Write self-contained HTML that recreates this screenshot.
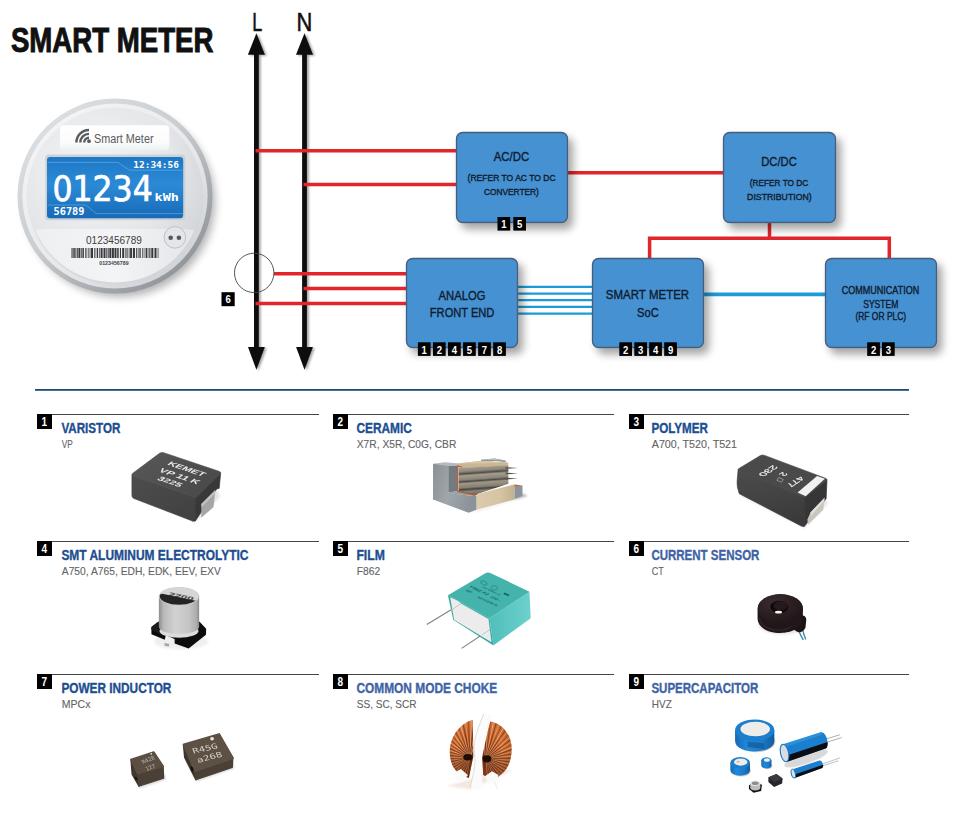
<!DOCTYPE html>
<html><head><meta charset="utf-8"><title>Smart Meter</title>
<style>
html,body{margin:0;padding:0;background:#fff;}
body{width:967px;height:822px;overflow:hidden;font-family:"Liberation Sans",sans-serif;}
svg{display:block;}
text{font-family:"Liberation Sans",sans-serif;}
.b{font-weight:bold;}
.dj{font-family:"DejaVu Sans","Liberation Sans",sans-serif;}
.mono{font-family:"DejaVu Sans Mono","Liberation Mono",monospace;}
.bt{fill:#101c30;stroke:#101c30;stroke-width:0.38px;}
.bd{fill:#fff;font-weight:bold;font-size:11px;text-anchor:middle;}
.st{font-weight:bold;font-size:14px;stroke-width:0.35px;}
.ss{font-size:11.2px;fill:#636363;stroke:#636363;stroke-width:0.12px;}
</style></head><body>
<svg width="967" height="822" viewBox="0 0 967 822">
<defs>
<filter id="sh" x="-20%" y="-20%" width="150%" height="150%"><feGaussianBlur in="SourceAlpha" stdDeviation="4.2"/><feOffset dx="5" dy="6"/><feComponentTransfer><feFuncA type="linear" slope="0.36"/></feComponentTransfer><feMerge><feMergeNode/><feMergeNode in="SourceGraphic"/></feMerge></filter>
<filter id="sh2" x="-50%" y="-5%" width="250%" height="110%"><feGaussianBlur in="SourceAlpha" stdDeviation="1.2"/><feOffset dx="1.5" dy="1"/><feComponentTransfer><feFuncA type="linear" slope="0.35"/></feComponentTransfer><feMerge><feMergeNode/><feMergeNode in="SourceGraphic"/></feMerge></filter>
<filter id="bl1"><feGaussianBlur stdDeviation="0.6"/></filter>
<filter id="bl2"><feGaussianBlur stdDeviation="1.2"/></filter>
<filter id="bl4"><feGaussianBlur stdDeviation="4"/></filter>

<linearGradient id="mrim" x1="0.15" y1="0.1" x2="0.85" y2="0.9"><stop offset="0" stop-color="#dcdfe2"/><stop offset="0.45" stop-color="#c9ccd0"/><stop offset="1" stop-color="#909398"/></linearGradient>
<linearGradient id="mbev" x1="0.15" y1="0.1" x2="0.85" y2="0.9"><stop offset="0" stop-color="#f3f4f5"/><stop offset="0.6" stop-color="#e6e8ea"/><stop offset="1" stop-color="#cfd2d6"/></linearGradient>
<radialGradient id="mface" cx="0.38" cy="0.35" r="0.75"><stop offset="0" stop-color="#f3f4f5"/><stop offset="0.6" stop-color="#e4e6e9"/><stop offset="1" stop-color="#cdd0d4"/></radialGradient>
<linearGradient id="mlow" x1="0" y1="0" x2="1" y2="0"><stop offset="0" stop-color="#eceef0"/><stop offset="0.5" stop-color="#f3f4f6"/><stop offset="1" stop-color="#dfe2e5"/></linearGradient>
<linearGradient id="mlab" x1="0" y1="0" x2="0" y2="1"><stop offset="0" stop-color="#ffffff"/><stop offset="0.7" stop-color="#fbfbfc"/><stop offset="1" stop-color="#eef0f2"/></linearGradient>
<linearGradient id="lcd" x1="0" y1="0" x2="0" y2="1"><stop offset="0" stop-color="#1d78c6"/><stop offset="0.45" stop-color="#2b8ad6"/><stop offset="1" stop-color="#176ab8"/></linearGradient>
<filter id="bl0"><feGaussianBlur stdDeviation="0.3"/></filter>
<linearGradient id="v1" x1="0" y1="0" x2="1" y2="1"><stop offset="0" stop-color="#4d4d4d"/><stop offset="1" stop-color="#404040"/></linearGradient>
<linearGradient id="v2" x1="0" y1="0" x2="1" y2="0.6"><stop offset="0" stop-color="#585858"/><stop offset="1" stop-color="#4a4a4a"/></linearGradient>
<linearGradient id="c1" x1="0" y1="0" x2="0.12" y2="1"><stop offset="0" stop-color="#b9ad97"/><stop offset="0.22" stop-color="#8f897d"/><stop offset="0.30" stop-color="#4f4d49"/><stop offset="0.36" stop-color="#a59c8b"/><stop offset="0.50" stop-color="#8a8478"/><stop offset="0.56" stop-color="#4a4845"/><stop offset="0.62" stop-color="#a09786"/><stop offset="0.76" stop-color="#857f74"/><stop offset="0.82" stop-color="#474542"/><stop offset="0.90" stop-color="#8d8678"/><stop offset="1" stop-color="#6b665d"/></linearGradient>
<linearGradient id="c2" x1="0" y1="0" x2="1" y2="0"><stop offset="0" stop-color="#dccbac"/><stop offset="0.6" stop-color="#d6c4a3"/><stop offset="1" stop-color="#c4b190"/></linearGradient>
<linearGradient id="c3" x1="0" y1="0" x2="1" y2="0.3"><stop offset="0" stop-color="#8a9196"/><stop offset="0.5" stop-color="#a0a7ac"/><stop offset="1" stop-color="#8d9499"/></linearGradient>
<linearGradient id="p1" x1="0" y1="0" x2="0.2" y2="1"><stop offset="0" stop-color="#4b4b4b"/><stop offset="0.5" stop-color="#444"/><stop offset="1" stop-color="#3a3a3a"/></linearGradient>
<linearGradient id="s1" x1="0" y1="0" x2="1" y2="0"><stop offset="0" stop-color="#8d8d8d"/><stop offset="0.12" stop-color="#b9b9b9"/><stop offset="0.4" stop-color="#d2d2d2"/><stop offset="0.75" stop-color="#c4c4c4"/><stop offset="0.93" stop-color="#adadad"/><stop offset="1" stop-color="#8a8a8a"/></linearGradient>
<clipPath id="s2"><ellipse cx="179.02" cy="596.13" rx="19.27" ry="8.54"/></clipPath>
<linearGradient id="f1" x1="0" y1="0" x2="1" y2="0"><stop offset="0" stop-color="#4fbfba"/><stop offset="1" stop-color="#6dd0cd"/></linearGradient>
<radialGradient id="cs1" cx="0.35" cy="0.3" r="0.8"><stop offset="0" stop-color="#3b2b2e"/><stop offset="1" stop-color="#1e1417"/></radialGradient>
<radialGradient id="ck1" cx="0.85" cy="0.62" r="0.95"><stop offset="0" stop-color="#4a1c0a"/><stop offset="0.25" stop-color="#a94d1f"/><stop offset="0.6" stop-color="#d2733a"/><stop offset="1" stop-color="#b55a26"/></radialGradient>
<radialGradient id="ck2" cx="0.12" cy="0.62" r="0.95"><stop offset="0" stop-color="#4a1c0a"/><stop offset="0.25" stop-color="#a94d1f"/><stop offset="0.6" stop-color="#d2733a"/><stop offset="1" stop-color="#b55a26"/></radialGradient>
<clipPath id="ckL"><path d="M472.78 719.78C456.9 724.71 448.14 741.13 450.11 756.46C451.42 768.51 459.09 776.17 468.94 777.81L473.32 756.46Z" fill="#000" /></clipPath><clipPath id="ckR"><path d="M489.75 721.42C500.7 722.52 511.65 733.47 511.65 748.8C511.65 764.13 505.08 775.08 491.94 779.46L483.18 775.08L482.08 757.56Z" fill="#000" /></clipPath>
<linearGradient id="ck3" x1="0" y1="0" x2="0" y2="1"><stop offset="0.45" stop-color="#3a1204" stop-opacity="0"/><stop offset="1" stop-color="#3a1204" stop-opacity="0.5"/></linearGradient>
<linearGradient id="sc1" x1="0" y1="0" x2="1" y2="0"><stop offset="0" stop-color="#1669b3"/><stop offset="0.3" stop-color="#2289da"/><stop offset="0.7" stop-color="#1b7bc8"/><stop offset="1" stop-color="#135a9c"/></linearGradient>
</defs>
<rect width="967" height="822" fill="#fff"/>

<text x="10.9" y="52" font-size="35" class="b" fill="#111" textLength="202.6" lengthAdjust="spacingAndGlyphs" stroke="#111" stroke-width="1.0">SMART METER</text>
<text x="252.2" y="30.8" font-size="26" fill="#111" textLength="10" lengthAdjust="spacingAndGlyphs" stroke="#111" stroke-width="0.55">L</text>
<text x="296.6" y="30.8" font-size="26" fill="#111" textLength="15.8" lengthAdjust="spacingAndGlyphs" stroke="#111" stroke-width="0.55">N</text>
<g filter="url(#sh2)" fill="#0a0a0a">
<rect x="254" y="50" width="4.8" height="300"/>
<path d="M256.4 33.2 L264.9 54.8 L247.9 54.8 Z"/>
<path d="M256.4 369.8 L264.8 347 L248 347 Z"/>
<rect x="302.1" y="50" width="4.8" height="300"/>
<path d="M304.5 33.2 L313.0 54.8 L296.0 54.8 Z"/>
<path d="M304.5 369.8 L312.9 347 L296.1 347 Z"/>
</g>
<g stroke="#e1252b" stroke-width="3.5" fill="none">
<path d="M255.5 150.7 H458"/>
<path d="M303.5 184.6 H458"/>
<path d="M274 273.8 H408"/>
<path d="M303.5 288.5 H408"/>
<path d="M255.5 303.5 H408"/>
<path d="M566 172.7 H725"/>
<path d="M769.5 221 V238.2"/>
<path d="M649.6 260 V238.2 H889.3 V260"/>
</g>
<g stroke="#1d9ad7" fill="none">
<path d="M516 286.9 H594" stroke-width="2.3"/>
<path d="M516 293.6 H594" stroke-width="2.3"/>
<path d="M516 300.2 H594" stroke-width="2.3"/>
<path d="M516 306.9 H594" stroke-width="2.3"/>
<path d="M516 313.6 H594" stroke-width="2.3"/>
<path d="M702 294.4 H827" stroke-width="3.6"/>
</g>
<circle cx="254.2" cy="272.9" r="19.7" fill="none" stroke="#444" stroke-width="0.9"/>
<g filter="url(#sh)">
<rect x="456.5" y="132.5" width="111" height="90" rx="6.2" fill="#4591d1" stroke="#475d7c" stroke-width="1.3"/>
<rect x="723.5" y="132.5" width="112" height="90" rx="6.2" fill="#4591d1" stroke="#475d7c" stroke-width="1.3"/>
<rect x="406.5" y="258.5" width="111" height="89" rx="6.2" fill="#4591d1" stroke="#475d7c" stroke-width="1.3"/>
<rect x="592.5" y="258.5" width="111" height="89" rx="6.2" fill="#4591d1" stroke="#475d7c" stroke-width="1.3"/>
<rect x="825.5" y="258.5" width="111" height="89" rx="6.2" fill="#4591d1" stroke="#475d7c" stroke-width="1.3"/>
</g>
<text x="511.5" y="161.1" font-size="13.6" class="bt" text-anchor="middle" textLength="35.5" lengthAdjust="spacingAndGlyphs">AC/DC</text>
<text x="511.6" y="181.2" font-size="9.6" class="bt" text-anchor="middle" textLength="88" lengthAdjust="spacingAndGlyphs">(REFER TO AC TO DC</text>
<text x="511.4" y="194.9" font-size="9.6" class="bt" text-anchor="middle" textLength="55" lengthAdjust="spacingAndGlyphs">CONVERTER)</text>
<text x="779" y="166.2" font-size="13.6" class="bt" text-anchor="middle" textLength="35.5" lengthAdjust="spacingAndGlyphs">DC/DC</text>
<text x="779" y="186.2" font-size="9.6" class="bt" text-anchor="middle" textLength="58.6" lengthAdjust="spacingAndGlyphs">(REFER TO DC</text>
<text x="779.4" y="200" font-size="9.6" class="bt" text-anchor="middle" textLength="64.6" lengthAdjust="spacingAndGlyphs">DISTRIBUTION)</text>
<text x="462" y="299.6" font-size="13.6" class="bt" text-anchor="middle" textLength="47" lengthAdjust="spacingAndGlyphs">ANALOG</text>
<text x="462.1" y="316.7" font-size="13.6" class="bt" text-anchor="middle" textLength="64.5" lengthAdjust="spacingAndGlyphs">FRONT END</text>
<text x="647.5" y="299.4" font-size="13.6" class="bt" text-anchor="middle" textLength="83.3" lengthAdjust="spacingAndGlyphs">SMART METER</text>
<text x="647.9" y="316.7" font-size="13.6" class="bt" text-anchor="middle" textLength="21.6" lengthAdjust="spacingAndGlyphs">SoC</text>
<text x="880.5" y="294" font-size="10.3" class="bt" text-anchor="middle" textLength="77.5" lengthAdjust="spacingAndGlyphs">COMMUNICATION</text>
<text x="880.8" y="307.6" font-size="10.3" class="bt" text-anchor="middle" textLength="35.2" lengthAdjust="spacingAndGlyphs">SYSTEM</text>
<text x="880.8" y="320.2" font-size="10.3" class="bt" text-anchor="middle" textLength="50.8" lengthAdjust="spacingAndGlyphs">(RF OR PLC)</text>
<rect x="497.5" y="217" width="12.7" height="13.6" fill="#000"/>
<text x="503.85" y="228.20" class="bd" textLength="5.3" lengthAdjust="spacingAndGlyphs">1</text>
<rect x="513.3" y="217" width="12.7" height="13.6" fill="#000"/>
<text x="519.65" y="228.20" class="bd" textLength="5.3" lengthAdjust="spacingAndGlyphs">5</text>
<rect x="417.9" y="342.3" width="12.7" height="13.6" fill="#000"/>
<text x="424.25" y="353.50" class="bd" textLength="5.3" lengthAdjust="spacingAndGlyphs">1</text>
<rect x="432.96" y="342.3" width="12.7" height="13.6" fill="#000"/>
<text x="439.31" y="353.50" class="bd" textLength="5.3" lengthAdjust="spacingAndGlyphs">2</text>
<rect x="448.02" y="342.3" width="12.7" height="13.6" fill="#000"/>
<text x="454.37" y="353.50" class="bd" textLength="5.3" lengthAdjust="spacingAndGlyphs">4</text>
<rect x="463.08" y="342.3" width="12.7" height="13.6" fill="#000"/>
<text x="469.43" y="353.50" class="bd" textLength="5.3" lengthAdjust="spacingAndGlyphs">5</text>
<rect x="478.14" y="342.3" width="12.7" height="13.6" fill="#000"/>
<text x="484.49" y="353.50" class="bd" textLength="5.3" lengthAdjust="spacingAndGlyphs">7</text>
<rect x="493.2" y="342.3" width="12.7" height="13.6" fill="#000"/>
<text x="499.55" y="353.50" class="bd" textLength="5.3" lengthAdjust="spacingAndGlyphs">8</text>
<rect x="619.3" y="342.3" width="12.7" height="13.6" fill="#000"/>
<text x="625.65" y="353.50" class="bd" textLength="5.3" lengthAdjust="spacingAndGlyphs">2</text>
<rect x="634.3" y="342.3" width="12.7" height="13.6" fill="#000"/>
<text x="640.65" y="353.50" class="bd" textLength="5.3" lengthAdjust="spacingAndGlyphs">3</text>
<rect x="649.2" y="342.3" width="12.7" height="13.6" fill="#000"/>
<text x="655.55" y="353.50" class="bd" textLength="5.3" lengthAdjust="spacingAndGlyphs">4</text>
<rect x="664.2" y="342.3" width="12.7" height="13.6" fill="#000"/>
<text x="670.55" y="353.50" class="bd" textLength="5.3" lengthAdjust="spacingAndGlyphs">9</text>
<rect x="867.2" y="342.3" width="12.7" height="13.6" fill="#000"/>
<text x="873.55" y="353.50" class="bd" textLength="5.3" lengthAdjust="spacingAndGlyphs">2</text>
<rect x="882" y="342.3" width="12.7" height="13.6" fill="#000"/>
<text x="888.35" y="353.50" class="bd" textLength="5.3" lengthAdjust="spacingAndGlyphs">3</text>
<rect x="221.5" y="292.2" width="13.2" height="14" fill="#000"/>
<text x="228.10" y="303.40" class="bd" textLength="5.3" lengthAdjust="spacingAndGlyphs">6</text>
<rect x="35" y="389" width="874" height="1.8" fill="#1c4c7c"/>
<rect x="37" y="414" width="282" height="1" fill="#454545"/>
<rect x="37" y="414" width="15" height="15" fill="#000"/>
<text x="44.3" y="426" class="bd" font-size="12" style="font-size:12px" textLength="5.6" lengthAdjust="spacingAndGlyphs">1</text>
<text x="61.4" y="433" font-size="14" class="st" fill="#1c4e90" textLength="59" lengthAdjust="spacingAndGlyphs" stroke="#1c4e90">VARISTOR</text>
<text x="61.8" y="448.4" font-size="11.2" class="ss" textLength="11" lengthAdjust="spacingAndGlyphs">VP</text>
<rect x="333" y="414" width="281" height="1" fill="#454545"/>
<rect x="333" y="414" width="15" height="15" fill="#000"/>
<text x="340.3" y="426" class="bd" font-size="12" style="font-size:12px" textLength="5.6" lengthAdjust="spacingAndGlyphs">2</text>
<text x="356.4" y="433" font-size="14" class="st" fill="#1c4e90" textLength="55.5" lengthAdjust="spacingAndGlyphs" stroke="#1c4e90">CERAMIC</text>
<text x="356.8" y="448.4" font-size="11.2" class="ss" textLength="99.5" lengthAdjust="spacingAndGlyphs">X7R, X5R, C0G, CBR</text>
<rect x="629" y="414" width="280" height="1" fill="#454545"/>
<rect x="629" y="414" width="15" height="15" fill="#000"/>
<text x="636.3" y="426" class="bd" font-size="12" style="font-size:12px" textLength="5.6" lengthAdjust="spacingAndGlyphs">3</text>
<text x="651.4" y="433" font-size="14" class="st" fill="#1c4e90" textLength="56.5" lengthAdjust="spacingAndGlyphs" stroke="#1c4e90">POLYMER</text>
<text x="651.8" y="448.4" font-size="11.2" class="ss" textLength="85.2" lengthAdjust="spacingAndGlyphs">A700, T520, T521</text>
<rect x="37" y="541" width="282" height="1" fill="#454545"/>
<rect x="37" y="541" width="15" height="15" fill="#000"/>
<text x="44.3" y="553" class="bd" font-size="12" style="font-size:12px" textLength="5.6" lengthAdjust="spacingAndGlyphs">4</text>
<text x="61.4" y="560" font-size="14" class="st" fill="#1c4e90" textLength="187" lengthAdjust="spacingAndGlyphs" stroke="#1c4e90">SMT ALUMINUM ELECTROLYTIC</text>
<text x="61.8" y="575.4" font-size="11.2" class="ss" textLength="159" lengthAdjust="spacingAndGlyphs">A750, A765, EDH, EDK, EEV, EXV</text>
<rect x="333" y="541" width="281" height="1" fill="#454545"/>
<rect x="333" y="541" width="15" height="15" fill="#000"/>
<text x="340.3" y="553" class="bd" font-size="12" style="font-size:12px" textLength="5.6" lengthAdjust="spacingAndGlyphs">5</text>
<text x="356.4" y="560" font-size="14" class="st" fill="#1c4e90" textLength="28.4" lengthAdjust="spacingAndGlyphs" stroke="#1c4e90">FILM</text>
<text x="356.8" y="575.4" font-size="11.2" class="ss" textLength="23.4" lengthAdjust="spacingAndGlyphs">F862</text>
<rect x="629" y="541" width="280" height="1" fill="#454545"/>
<rect x="629" y="541" width="15" height="15" fill="#000"/>
<text x="636.3" y="553" class="bd" font-size="12" style="font-size:12px" textLength="5.6" lengthAdjust="spacingAndGlyphs">6</text>
<text x="651.4" y="560" font-size="14" class="st" fill="#3e63a6" textLength="108" lengthAdjust="spacingAndGlyphs" stroke="#3e63a6">CURRENT SENSOR</text>
<text x="651.8" y="575.4" font-size="11.2" class="ss" textLength="12" lengthAdjust="spacingAndGlyphs">CT</text>
<rect x="37" y="674" width="282" height="1" fill="#454545"/>
<rect x="37" y="674" width="15" height="15" fill="#000"/>
<text x="44.3" y="686" class="bd" font-size="12" style="font-size:12px" textLength="5.6" lengthAdjust="spacingAndGlyphs">7</text>
<text x="61.4" y="693" font-size="14" class="st" fill="#1c4e90" textLength="110" lengthAdjust="spacingAndGlyphs" stroke="#1c4e90">POWER INDUCTOR</text>
<text x="61.8" y="708.4" font-size="11.2" class="ss" textLength="28.6" lengthAdjust="spacingAndGlyphs">MPCx</text>
<rect x="333" y="674" width="281" height="1" fill="#454545"/>
<rect x="333" y="674" width="15" height="15" fill="#000"/>
<text x="340.3" y="686" class="bd" font-size="12" style="font-size:12px" textLength="5.6" lengthAdjust="spacingAndGlyphs">8</text>
<text x="356.4" y="693" font-size="14" class="st" fill="#3e63a6" textLength="140.8" lengthAdjust="spacingAndGlyphs" stroke="#3e63a6">COMMON MODE CHOKE</text>
<text x="356.8" y="708.4" font-size="11.2" class="ss" textLength="59.8" lengthAdjust="spacingAndGlyphs">SS, SC, SCR</text>
<rect x="629" y="674" width="280" height="1" fill="#454545"/>
<rect x="629" y="674" width="15" height="15" fill="#000"/>
<text x="636.3" y="686" class="bd" font-size="12" style="font-size:12px" textLength="5.6" lengthAdjust="spacingAndGlyphs">9</text>
<text x="651.4" y="693" font-size="14" class="st" fill="#3e63a6" textLength="107" lengthAdjust="spacingAndGlyphs" stroke="#3e63a6">SUPERCAPACITOR</text>
<text x="651.8" y="708.4" font-size="11.2" class="ss" textLength="20" lengthAdjust="spacingAndGlyphs">HVZ</text>
<g id="meter">
<circle cx="120" cy="202" r="95" fill="#000" opacity="0.30" filter="url(#bl4)"/>
<circle cx="115" cy="196" r="97.5" fill="url(#mrim)"/>
<circle cx="115" cy="196" r="92.6" fill="url(#mbev)"/>
<circle cx="115" cy="196" r="88.5" fill="url(#mface)"/>
<clipPath id="mclip"><circle cx="115" cy="196" r="86.5"/></clipPath>
<g clip-path="url(#mclip)"><path d="M20 236 Q30 229 50 229 H180 Q200 229 212 236 V300 H20 Z" fill="url(#mlow)"/></g>
<rect x="60" y="125.3" width="109.3" height="25" rx="4" fill="url(#mlab)"/>
<g fill="none" stroke="#595b5d" stroke-width="2.4"><path d="M76.4 142.6 A12.6 12.6 0 0 1 89 130"/><path d="M80.3 142.6 A8.7 8.7 0 0 1 89 133.9"/><path d="M84.2 142.6 A4.8 4.8 0 0 1 89 137.8"/></g><circle cx="89" cy="141.2" r="1.9" fill="#595b5d"/>
<text x="94" y="143.3" font-size="12" fill="#58595b" textLength="59.5" lengthAdjust="spacingAndGlyphs">Smart Meter</text>
<rect x="45.2" y="154.6" width="140.2" height="65.6" rx="3.5" fill="#cdd1d5"/>
<rect x="47" y="157" width="136.2" height="61.2" rx="3.2" fill="url(#lcd)"/>
<g fill="none" stroke="#8cc6ee" stroke-width="0.8" opacity="0.55"><path d="M47.5 162.4 H118 L129.5 170.2 H183"/><path d="M47.5 205 H86 L96 213.6 H183"/></g>
<text x="133.3" y="167.9" font-size="8.6" class="mono" fill="#fff" font-weight="bold" textLength="45.6" lengthAdjust="spacingAndGlyphs">12:34:56</text>
<text x="52.4" y="201" font-size="34.7" class="dj" fill="#fff" stroke="#fff" stroke-width="0.7" textLength="100.4" lengthAdjust="spacingAndGlyphs">01234</text>
<text x="154.6" y="201" font-size="10.8" class="mono" fill="#fff" font-weight="bold" textLength="24.4" lengthAdjust="spacingAndGlyphs">kWh</text>
<text x="53.5" y="214.5" font-size="9.6" class="mono" fill="#fff" font-weight="bold" textLength="31" lengthAdjust="spacingAndGlyphs">56789</text>
<text x="86" y="243.5" font-size="10.2" fill="#3f4042" textLength="55.8" lengthAdjust="spacingAndGlyphs">0123456789</text>
<path d="M71.5 247.9h1.1v10.2h-1.1zM73.3 247.9h1.5v10.2h-1.5zM75.4 247.9h0.7v10.2h-0.7zM76.7 247.9h1.1v10.2h-1.1zM78.4 247.9h2.0v10.2h-2.0zM81.1 247.9h0.7v10.2h-0.7zM82.4 247.9h1.5v10.2h-1.5zM85.1 247.9h0.7v10.2h-0.7zM86.5 247.9h0.7v10.2h-0.7zM88.4 247.9h0.7v10.2h-0.7zM89.7 247.9h0.7v10.2h-0.7zM91.0 247.9h2.0v10.2h-2.0zM94.2 247.9h0.7v10.2h-0.7zM95.6 247.9h0.7v10.2h-0.7zM97.0 247.9h1.1v10.2h-1.1zM99.3 247.9h0.7v10.2h-0.7zM100.6 247.9h2.0v10.2h-2.0zM103.5 247.9h2.0v10.2h-2.0zM106.2 247.9h0.7v10.2h-0.7zM107.6 247.9h1.1v10.2h-1.1zM109.3 247.9h2.0v10.2h-2.0zM111.9 247.9h2.0v10.2h-2.0zM114.5 247.9h2.0v10.2h-2.0zM117.2 247.9h1.5v10.2h-1.5zM119.9 247.9h1.1v10.2h-1.1zM122.2 247.9h2.0v10.2h-2.0zM125.4 247.9h1.1v10.2h-1.1zM127.4 247.9h0.7v10.2h-0.7zM128.8 247.9h0.7v10.2h-0.7zM130.1 247.9h2.0v10.2h-2.0zM133.0 247.9h2.0v10.2h-2.0zM136.2 247.9h1.1v10.2h-1.1zM138.5 247.9h1.1v10.2h-1.1zM140.2 247.9h0.7v10.2h-0.7zM142.1 247.9h0.7v10.2h-0.7zM143.7 247.9h0.7v10.2h-0.7zM145.6 247.9h1.5v10.2h-1.5zM147.7 247.9h0.7v10.2h-0.7zM149.3 247.9h1.1v10.2h-1.1zM151.3 247.9h2.0v10.2h-2.0zM154.5 247.9h2.0v10.2h-2.0zM157.7 247.9h0.7v10.2h-0.7z" fill="#38393b"/>
<text x="99.2" y="264.9" font-size="5.2" font-weight="bold" fill="#444" textLength="29.4" lengthAdjust="spacingAndGlyphs">0123456789</text>
<circle cx="174.9" cy="237.4" r="10.8" fill="#e3e5e8" stroke="#b4b7ba" stroke-width="0.8"/>
<circle cx="170.7" cy="237.7" r="2.3" fill="#55575a"/><circle cx="178.9" cy="237.7" r="2.3" fill="#55575a"/>
</g>
<g><polygon points="133.65,497.45 195.65,521.91 220.11,496.88 217.84,490.06" fill="#000" opacity="0.10" filter="url(#bl2)"/>
<path d="M131.95 475.49L195.65 497.22L195.31 521Q192.81 521.91 190.53 520.2L133.42 498.25Q131.72 496.88 131.95 494.61Z" fill="url(#v1)" stroke="#464646" stroke-width="0.7"/>
<path d="M195.65 497.22L220.68 472.65L219.2 488.35L216.7 488.92L195.31 521Z" fill="#383838" stroke="#383838" stroke-width="0.7"/>
<polygon points="201.34,504.05 215.34,490.06 213.52,507.12 201.34,517.7" fill="#a6a6a6" />
<polygon points="201.34,504.05 215.34,490.06 214.99,493.47 201.68,507.12" fill="#c2c2c2" />
<path d="M131.95 475.49Q131.38 474.13 133.08 472.99L159.82 453.08Q161.52 451.95 163.8 452.74L218.98 471.29Q221.25 472.08 220.11 473.56L196.79 496.88Q195.65 498.02 193.95 496.88Z" fill="url(#v2)" stroke="#505050" stroke-width="0.6"/>
<g filter="url(#bl0)">
<text transform="matrix(0.95 0.32 -0.75 0.58 166.64 464.49)" font-size="8.2" font-weight="bold" fill="#ececec" textLength="38" lengthAdjust="spacingAndGlyphs">KEMET</text>
<text transform="matrix(0.95 0.32 -0.75 0.58 158.12 471.26)" font-size="8.2" font-weight="bold" fill="#ececec" textLength="41" lengthAdjust="spacingAndGlyphs">VP 11 K</text>
<text transform="matrix(0.95 0.32 -0.75 0.58 156.54 479.40)" font-size="8.2" font-weight="bold" fill="#ececec" textLength="24" lengthAdjust="spacingAndGlyphs">3225</text>
</g></g>
<g><polygon points="469.64,512.63 478.33,510.77 527.97,495.88 523,493.4 514.32,499.6" fill="#000" opacity="0.28" filter="url(#bl2)"/>
<polygon points="480.81,459.64 494.46,458.4 505.63,460.39 505.88,462.37 495.7,460.88 481.43,461.75" fill="#8f969b" />
<polygon points="480.81,459.64 494.46,458.4 505.63,460.39 494.46,459.89" fill="#b9bfc4" />
<polygon points="457.23,463.62 480.81,460.88 508.11,462.62 508.36,465.48 460.95,468.33 456.98,466.84" fill="#cbb692" />
<polygon points="457.23,463.62 480.81,460.88 508.11,462.62 482.05,463.62" fill="#d8c6a4" />
<polygon points="458.72,468.08 508.36,465.23 508.36,483.72 476.47,494.14 474.6,494.89 458.72,491.17" fill="url(#c1)" />
<polygon points="505.63,467.09 518.04,468.08 505.63,468.83" fill="#55534f" />
<polygon points="505.63,472.55 518.04,473.54 505.63,474.29" fill="#55534f" />
<polygon points="505.63,477.64 518.04,478.63 505.63,479.38" fill="#55534f" />
<polygon points="476.47,494.14 514.32,484.46 514.56,499.6 476.47,509.78" fill="url(#c2)" />
<polygon points="514.32,486.2 522.51,485.46 522.51,495.88 514.56,499.36" fill="#8e959a" />
<polygon points="514.32,484.46 518.66,484.96 522.51,485.46 514.32,486.45" fill="#b06a45" />
<polygon points="433.03,463.86 448.29,464.86 448.29,492.16 457.23,494.14 476.47,495.88 476.47,509.78 468.65,512.76 433.03,499.6" fill="url(#c3)" />
<polygon points="433.03,463.86 444.82,462.37 458.72,463.62 457.23,465.6 448.29,466.1" fill="#b4babf" />
<polygon points="448.29,466.1 457.23,465.6 457.23,491.17 448.29,492.41" fill="#747b80" />
<polygon points="448.29,492.41 457.23,491.17 474.6,494.89 476.47,495.88 457.23,494.39" fill="#9aa1a6" />
<path d="M457.73 466.35 L457.73 491.17 L474.6 495.14 L476.84 494.14" fill="none" stroke="#b4562c" stroke-width="1.3"/>
<path d="M457.23 465.85 L462.19 467.09" fill="none" stroke="#b4562c" stroke-width="1"/></g>
<g><polygon points="738.65,494.64 804.42,528.15 828,503.33 824.28,497.12" fill="#000" opacity="0.10" filter="url(#bl2)"/>
<path d="M738.03 470.69L804.42 497.12L804.42 526.29Q802.56 526.91 800.7 525.67L739.27 493.65Q736.42 485.95 737.16 480.99Z" fill="url(#p1)" stroke="#424242" stroke-width="0.7"/>
<path d="M804.42 497.12L827.01 479.38L826.14 498.61L804.42 526.29Z" fill="#363636" stroke="#363636" stroke-width="0.7"/>
<polygon points="810.63,512.26 824.53,497.74 823.29,509.78 807.9,524.67 807.4,519.46" fill="#c9c5bf" />
<polygon points="810.63,512.26 824.53,497.74 824.28,500.85 810.88,515.74" fill="#e2dfda" />
<path d="M738.03 470.69Q737.41 469.2 739.27 468.33L760.37 455.55Q762.23 454.43 764.71 455.42L825.52 478.26Q827.76 479.13 826.14 480.74L805.67 496.87Q804.42 497.87 802.56 496.87Z" fill="#4a4a4a" stroke="#4a4a4a" stroke-width="0.6"/>
<polygon points="797.6,492.41 817.08,476.03 824.9,478.76 805.67,496.13" fill="#f1f1f1" />
<g filter="url(#bl0)">
<text transform="matrix(-0.84 0.54 -0.94 -0.35 799.7 476.3)" font-size="8.6" fill="#ededed" stroke="#ededed" stroke-width="0.25" textLength="16.5" lengthAdjust="spacingAndGlyphs">477</text>
<text transform="matrix(-0.84 0.54 -0.94 -0.35 782.8 471.8)" font-size="8.6" fill="#ededed" stroke="#ededed" stroke-width="0.25" textLength="5" lengthAdjust="spacingAndGlyphs">2</text>
<text transform="matrix(-0.84 0.54 -0.94 -0.35 773.1 464.9)" font-size="8.6" fill="#ededed" stroke="#ededed" stroke-width="0.25" textLength="18" lengthAdjust="spacingAndGlyphs">230</text>
</g>
<polygon points="778.61,477.51 783.33,479.38 781.47,482.23 776.87,480.37" fill="none" stroke="#cfcfcf" stroke-width="0.5"/></g>
<g><ellipse cx="180.99" cy="641.79" rx="27.37" ry="7.66" fill="#000" opacity="0.06" filter="url(#bl2)"/>
<polygon points="151.42,627.01 158.21,621.86 199.6,621.86 206.17,628.65 205.95,634.67 188.65,648.58 174.64,643.54 174.64,639.05 165.88,635 164.78,639.82 151.42,634.13" fill="#0c0c0c" />
<polygon points="151.42,627.01 158.21,621.86 167.85,626.46 174.42,636.32 174.64,639.05 165.88,635 164.78,636.32 151.42,629.75" fill="#1c1c1c" />
<polygon points="164.34,643.1 169.16,643.76 168.94,646.39 164.78,645.95" fill="#a8a8a8" />
<ellipse cx="179.02" cy="631.06" rx="19.49" ry="6.79" fill="#dcdcdc" />
<path d="M158.87 596.35L158.87 626.46C158.87 636.32 199.16 636.32 199.16 626.46L199.16 596.35Z" fill="url(#s1)" />
<ellipse cx="179.02" cy="596.35" rx="20.15" ry="9.42" fill="#c9c9c9" />
<ellipse cx="179.02" cy="596.13" rx="19.27" ry="8.54" fill="#d6d6d6" />
<g clip-path="url(#s2)"><polygon points="156.9,595.26 162.37,593.83 197.96,601.28 193.03,607.85 156.9,603.69" fill="#232323" /><text transform="matrix(0.95 0.2 -0.35 0.62 167.85 595.58)" font-size="8" font-weight="bold" fill="#2e2e2e" textLength="26" lengthAdjust="spacingAndGlyphs" filter="url(#bl0)">2200</text></g></g>
<g><line x1="426.83" y1="624.53" x2="460.95" y2="603.68" stroke="#808080" stroke-width="1.1" />
<line x1="461.57" y1="648.36" x2="490.74" y2="629.0" stroke="#808080" stroke-width="1.1" />
<polygon points="447.92,595.37 489.5,618.33 493.47,645.38 453.26,619.82" fill="#3aa8a2" />
<path d="M450.16 597.6Q457.23 599.71 460.95 603.44L488.5 619.07L491.48 642.15L454.13 619.82Z" fill="#ececec" />
<line x1="451.03" y1="610.26" x2="460.95" y2="603.68" stroke="#c4c4c4" stroke-width="1.0" />
<line x1="482.05" y1="634.83" x2="490.74" y2="629.0" stroke="#c4c4c4" stroke-width="1.0" />
<polygon points="489.5,618.33 529.46,591.65 530.7,618.33 493.47,645.38" fill="url(#f1)" />
<path d="M447.92 595.37L485.77 573.03Q488.01 571.91 490.24 572.91L529.46 591.65L489.5 618.33Z" fill="#43b3ac" />
<g filter="url(#bl0)" opacity="0.9">
<text transform="matrix(0.91 0.42 -0.86 0.51 469.02 587.05)" font-size="4.2" fill="#17605c" font-weight="bold" textLength="20" lengthAdjust="spacingAndGlyphs">F862 X2</text>
<text transform="matrix(0.91 0.42 -0.86 0.51 465.3 590.78)" font-size="3.6" fill="#17605c" font-weight="bold" textLength="6" lengthAdjust="spacingAndGlyphs">KMT</text>
<text transform="matrix(0.91 0.42 -0.86 0.51 476.47 597.23)" font-size="3.2" fill="#17605c" font-weight="bold" textLength="22" lengthAdjust="spacingAndGlyphs">40/110/56 B</text>
<text transform="matrix(0.91 0.42 -0.86 0.51 489.5 597.23)" font-size="4" fill="#17605c" font-weight="bold" textLength="10" lengthAdjust="spacingAndGlyphs">310~</text>
<text transform="matrix(0.91 0.42 -0.86 0.51 482.05 587.55)" font-size="2.6" fill="#17605c" font-weight="bold" textLength="19" lengthAdjust="spacingAndGlyphs">IEC 60384-14</text>
</g>
<ellipse cx="483.91" cy="582.96" rx="3.47" ry="1.74" fill="none" stroke="#1c6e69" stroke-width="0.5" transform="rotate(25 483.91 582.96)"/>
<ellipse cx="494.21" cy="587.92" rx="3.23" ry="2.23" fill="none" stroke="#1c6e69" stroke-width="0.5"/>
<polygon points="504.39,592.51 509.35,594.75 508.36,596.24 503.4,594" fill="#17605c" /></g>
<g><ellipse cx="782.22" cy="623.88" rx="23.99" ry="10.75" fill="#000" opacity="0.10" filter="url(#bl2)"/>
<path d="M797.94 628.01Q800 634.63 803.31 640" fill="none" stroke="#3b84c6" stroke-width="1.4"/>
<path d="M802.07 627.18Q803.31 633.8 805.79 639.59" fill="none" stroke="#2f9a8c" stroke-width="1.4"/>
<path d="M791.32 617.26L802.9 615.6Q806.62 616.43 806.21 620.57L805.38 628.01Q802.9 632.56 797.94 632.15L791.32 628.01Z" fill="#1d1315" />
<path d="M757.57 608.99C757.57 589.96 802.9 589.96 802.9 608.99L802.9 618.09C802.9 637.94 757.57 637.94 757.57 618.09Z" fill="#20171a" />
<ellipse cx="780.4" cy="608.57" rx="22.5" ry="14.47" fill="url(#cs1)" />
<ellipse cx="779.33" cy="606.92" rx="8.93" ry="6.29" fill="#0e090a" />
<ellipse cx="780.57" cy="605.68" rx="7.03" ry="4.55" fill="#2a1f22" opacity="0.8"/>
<ellipse cx="778.5" cy="612.13" rx="3.47" ry="1.49" fill="#f4f4f4" filter="url(#bl0)"/>
<path d="M759.47 618.09C761.54 631.32 784.7 632.97 791.32 626.36" fill="none" stroke="#4a3a3d" stroke-width="1" opacity="0.6" filter="url(#bl0)"/></g>
<g><polygon points="133.65,777.12 139.86,788.29 165.92,779.6 164.68,774.64" fill="#000" opacity="0.15" filter="url(#bl2)"/>
<polygon points="185.77,759.75 196.32,781.47 234.17,768.44 232.93,762.23" fill="#000" opacity="0.15" filter="url(#bl2)"/>
<polygon points="130.92,759.5 137.62,773.65 138.86,786.06 132.16,774.39" fill="#40372e" stroke="#40372e" stroke-width="1.2" stroke-linejoin="round"/>
<polygon points="137.62,773.65 163.19,766.2 163.68,778.11 138.86,786.06" fill="#4a4036" stroke="#4a4036" stroke-width="1.2" stroke-linejoin="round"/>
<polygon points="130.92,759.5 153.76,752.05 163.19,766.2 137.62,773.65" fill="#5b4f43" stroke="#5b4f43" stroke-width="1.6" stroke-linejoin="round"/>
<polygon points="134.64,776.5 137.37,777.74 137.62,780.85 135.14,779.6" fill="#1a1512" />
<ellipse cx="151.27" cy="753.79" rx="0.87" ry="0.87" fill="#e8e6e0" />
<polygon points="183.54,744.86 195.2,771.17 195.95,779.6 184.78,757.51" fill="#3e352c" stroke="#3e352c" stroke-width="1.5" stroke-linejoin="round"/>
<polygon points="195.2,771.17 232.68,758.26 232.19,767.19 195.95,779.6" fill="#4a4036" stroke="#4a4036" stroke-width="1.5" stroke-linejoin="round"/>
<polygon points="183.91,744.61 219.03,734.31 232.68,758.01 195.2,770.92" fill="#5d5145" stroke="#5d5145" stroke-width="2.4" stroke-linejoin="round"/>
<polygon points="190.49,765.95 193.22,767.81 193.47,772.16 191.36,770.3" fill="#14100d" />
<ellipse cx="212.08" cy="738.65" rx="1.86" ry="1.74" fill="#efede8" />
<g filter="url(#bl0)">
<text transform="translate(193.47 753.79) rotate(-13) skewX(8)" font-size="7.4" fill="#d4d2ca" class="mono" textLength="25.5" lengthAdjust="spacingAndGlyphs">R45G</text>
<text transform="translate(197.93 762.97) rotate(-15) skewX(8)" font-size="7.4" fill="#d4d2ca" class="mono" textLength="26" lengthAdjust="spacingAndGlyphs">a268</text>
<text transform="translate(142.96 764.09) rotate(-22) skewX(8)" font-size="5.6" fill="#b9b5aa" class="mono" textLength="13.5" lengthAdjust="spacingAndGlyphs">R428</text>
<text transform="translate(146.68 770.92) rotate(-20) skewX(8)" font-size="5.6" fill="#b9b5aa" class="mono" textLength="10" lengthAdjust="spacingAndGlyphs">127</text>
</g></g>
<g><polygon points="447.04,786.02 471.13,789.31 511.65,770.7 505.08,769.6" fill="#caa58e" opacity="0.25" filter="url(#bl2)"/>
<path d="M472.78 719.78C456.9 724.71 448.14 741.13 450.11 756.46C451.42 768.51 459.09 776.17 468.94 777.81L473.32 756.46Z" fill="url(#ck1)" />
<path d="M489.75 721.42C500.7 722.52 511.65 733.47 511.65 748.8C511.65 764.13 505.08 775.08 491.94 779.46L483.18 775.08L482.08 757.56Z" fill="url(#ck2)" />
<g clip-path="url(#ckL)" filter="url(#bl0)"><line x1="470.04" y1="757.56" x2="466.03" y2="803.37" stroke="#6a2a0c" stroke-width="0.75" opacity="0.85"/><line x1="470.04" y1="757.56" x2="462.42" y2="802.91" stroke="#f0a874" stroke-width="0.75" opacity="0.85"/><line x1="470.04" y1="757.56" x2="458.86" y2="802.16" stroke="#8a3c14" stroke-width="0.75" opacity="0.85"/><line x1="470.04" y1="757.56" x2="455.37" y2="801.14" stroke="#f7c9a4" stroke-width="0.75" opacity="0.85"/><line x1="470.04" y1="757.56" x2="451.97" y2="799.84" stroke="#6a2a0c" stroke-width="0.75" opacity="0.85"/><line x1="470.04" y1="757.56" x2="448.68" y2="798.28" stroke="#f0a874" stroke-width="0.75" opacity="0.85"/><line x1="470.04" y1="757.56" x2="445.53" y2="796.47" stroke="#8a3c14" stroke-width="0.75" opacity="0.85"/><line x1="470.04" y1="757.56" x2="442.53" y2="794.41" stroke="#f7c9a4" stroke-width="0.75" opacity="0.85"/><line x1="470.04" y1="757.56" x2="439.7" y2="792.12" stroke="#6a2a0c" stroke-width="0.75" opacity="0.85"/><line x1="470.04" y1="757.56" x2="437.06" y2="789.61" stroke="#f0a874" stroke-width="0.75" opacity="0.85"/><line x1="470.04" y1="757.56" x2="434.63" y2="786.9" stroke="#8a3c14" stroke-width="0.75" opacity="0.85"/><line x1="470.04" y1="757.56" x2="432.42" y2="784.01" stroke="#f7c9a4" stroke-width="0.75" opacity="0.85"/><line x1="470.04" y1="757.56" x2="430.45" y2="780.95" stroke="#6a2a0c" stroke-width="0.75" opacity="0.85"/><line x1="470.04" y1="757.56" x2="428.72" y2="777.75" stroke="#f0a874" stroke-width="0.75" opacity="0.85"/><line x1="470.04" y1="757.56" x2="427.25" y2="774.42" stroke="#8a3c14" stroke-width="0.75" opacity="0.85"/><line x1="470.04" y1="757.56" x2="426.05" y2="770.98" stroke="#f7c9a4" stroke-width="0.75" opacity="0.85"/><line x1="470.04" y1="757.56" x2="425.13" y2="767.46" stroke="#6a2a0c" stroke-width="0.75" opacity="0.85"/><line x1="470.04" y1="757.56" x2="424.49" y2="763.88" stroke="#f0a874" stroke-width="0.75" opacity="0.85"/><line x1="470.04" y1="757.56" x2="424.13" y2="760.26" stroke="#8a3c14" stroke-width="0.75" opacity="0.85"/><line x1="470.04" y1="757.56" x2="424.06" y2="756.62" stroke="#f7c9a4" stroke-width="0.75" opacity="0.85"/><line x1="470.04" y1="757.56" x2="424.28" y2="752.99" stroke="#6a2a0c" stroke-width="0.75" opacity="0.85"/><line x1="470.04" y1="757.56" x2="424.78" y2="749.39" stroke="#f0a874" stroke-width="0.75" opacity="0.85"/><line x1="470.04" y1="757.56" x2="425.57" y2="745.83" stroke="#8a3c14" stroke-width="0.75" opacity="0.85"/><line x1="470.04" y1="757.56" x2="426.64" y2="742.36" stroke="#f7c9a4" stroke-width="0.75" opacity="0.85"/><line x1="470.04" y1="757.56" x2="427.97" y2="738.97" stroke="#6a2a0c" stroke-width="0.75" opacity="0.85"/><line x1="470.04" y1="757.56" x2="429.57" y2="735.7" stroke="#f0a874" stroke-width="0.75" opacity="0.85"/><line x1="470.04" y1="757.56" x2="431.43" y2="732.57" stroke="#8a3c14" stroke-width="0.75" opacity="0.85"/><line x1="470.04" y1="757.56" x2="433.53" y2="729.6" stroke="#f7c9a4" stroke-width="0.75" opacity="0.85"/><line x1="470.04" y1="757.56" x2="435.85" y2="726.8" stroke="#6a2a0c" stroke-width="0.75" opacity="0.85"/><line x1="470.04" y1="757.56" x2="438.39" y2="724.19" stroke="#f0a874" stroke-width="0.75" opacity="0.85"/><line x1="470.04" y1="757.56" x2="441.13" y2="721.79" stroke="#8a3c14" stroke-width="0.75" opacity="0.85"/><line x1="470.04" y1="757.56" x2="444.04" y2="719.62" stroke="#f7c9a4" stroke-width="0.75" opacity="0.85"/><line x1="470.04" y1="757.56" x2="447.13" y2="717.68" stroke="#6a2a0c" stroke-width="0.75" opacity="0.85"/><line x1="470.04" y1="757.56" x2="450.35" y2="716.0" stroke="#f0a874" stroke-width="0.75" opacity="0.85"/><line x1="470.04" y1="757.56" x2="453.7" y2="714.57" stroke="#8a3c14" stroke-width="0.75" opacity="0.85"/><line x1="470.04" y1="757.56" x2="457.15" y2="713.41" stroke="#f7c9a4" stroke-width="0.75" opacity="0.85"/><line x1="470.04" y1="757.56" x2="460.68" y2="712.53" stroke="#6a2a0c" stroke-width="0.75" opacity="0.85"/><line x1="470.04" y1="757.56" x2="464.27" y2="711.93" stroke="#f0a874" stroke-width="0.75" opacity="0.85"/><line x1="470.04" y1="757.56" x2="467.89" y2="711.62" stroke="#8a3c14" stroke-width="0.75" opacity="0.85"/><line x1="470.04" y1="757.56" x2="471.53" y2="711.59" stroke="#f7c9a4" stroke-width="0.75" opacity="0.85"/><line x1="470.04" y1="757.56" x2="475.16" y2="711.86" stroke="#6a2a0c" stroke-width="0.75" opacity="0.85"/><line x1="470.04" y1="757.56" x2="478.76" y2="712.4" stroke="#f0a874" stroke-width="0.75" opacity="0.85"/><line x1="470.04" y1="757.56" x2="482.3" y2="713.23" stroke="#8a3c14" stroke-width="0.75" opacity="0.85"/><line x1="470.04" y1="757.56" x2="485.77" y2="714.34" stroke="#f7c9a4" stroke-width="0.75" opacity="0.85"/></g>
<g clip-path="url(#ckR)" filter="url(#bl0)"><line x1="485.91" y1="758.65" x2="470.19" y2="715.44" stroke="#6a2a0c" stroke-width="0.75" opacity="0.85"/><line x1="485.91" y1="758.65" x2="473.65" y2="714.33" stroke="#f0a874" stroke-width="0.75" opacity="0.85"/><line x1="485.91" y1="758.65" x2="477.19" y2="713.5" stroke="#8a3c14" stroke-width="0.75" opacity="0.85"/><line x1="485.91" y1="758.65" x2="480.79" y2="712.95" stroke="#f7c9a4" stroke-width="0.75" opacity="0.85"/><line x1="485.91" y1="758.65" x2="484.42" y2="712.69" stroke="#6a2a0c" stroke-width="0.75" opacity="0.85"/><line x1="485.91" y1="758.65" x2="488.06" y2="712.71" stroke="#f0a874" stroke-width="0.75" opacity="0.85"/><line x1="485.91" y1="758.65" x2="491.69" y2="713.03" stroke="#8a3c14" stroke-width="0.75" opacity="0.85"/><line x1="485.91" y1="758.65" x2="495.27" y2="713.63" stroke="#f7c9a4" stroke-width="0.75" opacity="0.85"/><line x1="485.91" y1="758.65" x2="498.81" y2="714.51" stroke="#6a2a0c" stroke-width="0.75" opacity="0.85"/><line x1="485.91" y1="758.65" x2="502.26" y2="715.67" stroke="#f0a874" stroke-width="0.75" opacity="0.85"/><line x1="485.91" y1="758.65" x2="505.6" y2="717.09" stroke="#8a3c14" stroke-width="0.75" opacity="0.85"/><line x1="485.91" y1="758.65" x2="508.83" y2="718.78" stroke="#f7c9a4" stroke-width="0.75" opacity="0.85"/><line x1="485.91" y1="758.65" x2="511.91" y2="720.72" stroke="#6a2a0c" stroke-width="0.75" opacity="0.85"/><line x1="485.91" y1="758.65" x2="514.83" y2="722.89" stroke="#f0a874" stroke-width="0.75" opacity="0.85"/><line x1="485.91" y1="758.65" x2="517.56" y2="725.29" stroke="#8a3c14" stroke-width="0.75" opacity="0.85"/><line x1="485.91" y1="758.65" x2="520.1" y2="727.89" stroke="#f7c9a4" stroke-width="0.75" opacity="0.85"/><line x1="485.91" y1="758.65" x2="522.43" y2="730.69" stroke="#6a2a0c" stroke-width="0.75" opacity="0.85"/><line x1="485.91" y1="758.65" x2="524.52" y2="733.67" stroke="#f0a874" stroke-width="0.75" opacity="0.85"/><line x1="485.91" y1="758.65" x2="526.38" y2="736.8" stroke="#8a3c14" stroke-width="0.75" opacity="0.85"/><line x1="485.91" y1="758.65" x2="527.98" y2="740.07" stroke="#f7c9a4" stroke-width="0.75" opacity="0.85"/><line x1="485.91" y1="758.65" x2="529.32" y2="743.45" stroke="#6a2a0c" stroke-width="0.75" opacity="0.85"/><line x1="485.91" y1="758.65" x2="530.38" y2="746.93" stroke="#f0a874" stroke-width="0.75" opacity="0.85"/><line x1="485.91" y1="758.65" x2="531.17" y2="750.48" stroke="#8a3c14" stroke-width="0.75" opacity="0.85"/><line x1="485.91" y1="758.65" x2="531.67" y2="754.09" stroke="#f7c9a4" stroke-width="0.75" opacity="0.85"/><line x1="485.91" y1="758.65" x2="531.89" y2="757.72" stroke="#6a2a0c" stroke-width="0.75" opacity="0.85"/><line x1="485.91" y1="758.65" x2="531.82" y2="761.36" stroke="#f0a874" stroke-width="0.75" opacity="0.85"/><line x1="485.91" y1="758.65" x2="531.46" y2="764.98" stroke="#8a3c14" stroke-width="0.75" opacity="0.85"/><line x1="485.91" y1="758.65" x2="530.82" y2="768.56" stroke="#f7c9a4" stroke-width="0.75" opacity="0.85"/><line x1="485.91" y1="758.65" x2="529.9" y2="772.08" stroke="#6a2a0c" stroke-width="0.75" opacity="0.85"/><line x1="485.91" y1="758.65" x2="528.7" y2="775.51" stroke="#f0a874" stroke-width="0.75" opacity="0.85"/><line x1="485.91" y1="758.65" x2="527.23" y2="778.84" stroke="#8a3c14" stroke-width="0.75" opacity="0.85"/><line x1="485.91" y1="758.65" x2="525.5" y2="782.05" stroke="#f7c9a4" stroke-width="0.75" opacity="0.85"/><line x1="485.91" y1="758.65" x2="523.53" y2="785.11" stroke="#6a2a0c" stroke-width="0.75" opacity="0.85"/><line x1="485.91" y1="758.65" x2="521.32" y2="788.0" stroke="#f0a874" stroke-width="0.75" opacity="0.85"/><line x1="485.91" y1="758.65" x2="518.89" y2="790.7" stroke="#8a3c14" stroke-width="0.75" opacity="0.85"/><line x1="485.91" y1="758.65" x2="516.25" y2="793.21" stroke="#f7c9a4" stroke-width="0.75" opacity="0.85"/><line x1="485.91" y1="758.65" x2="513.43" y2="795.5" stroke="#6a2a0c" stroke-width="0.75" opacity="0.85"/><line x1="485.91" y1="758.65" x2="510.43" y2="797.56" stroke="#f0a874" stroke-width="0.75" opacity="0.85"/><line x1="485.91" y1="758.65" x2="507.27" y2="799.38" stroke="#8a3c14" stroke-width="0.75" opacity="0.85"/><line x1="485.91" y1="758.65" x2="503.99" y2="800.94" stroke="#f7c9a4" stroke-width="0.75" opacity="0.85"/><line x1="485.91" y1="758.65" x2="500.59" y2="802.24" stroke="#6a2a0c" stroke-width="0.75" opacity="0.85"/><line x1="485.91" y1="758.65" x2="497.09" y2="803.26" stroke="#f0a874" stroke-width="0.75" opacity="0.85"/><line x1="485.91" y1="758.65" x2="493.53" y2="804.0" stroke="#8a3c14" stroke-width="0.75" opacity="0.85"/><line x1="485.91" y1="758.65" x2="489.92" y2="804.46" stroke="#f7c9a4" stroke-width="0.75" opacity="0.85"/></g>
<path d="M472.78 719.78C456.9 724.71 448.14 741.13 450.11 756.46C451.42 768.51 459.09 776.17 468.94 777.81L473.32 756.46Z" fill="url(#ck3)" />
<path d="M489.75 721.42C500.7 722.52 511.65 733.47 511.65 748.8C511.65 764.13 505.08 775.08 491.94 779.46L483.18 775.08L482.08 757.56Z" fill="url(#ck3)" />
<ellipse cx="467.85" cy="757.34" rx="4.6" ry="3.28" fill="#1c0c06" filter="url(#bl1)"/>
<ellipse cx="487.01" cy="758.87" rx="4.38" ry="3.72" fill="#1c0c06" filter="url(#bl1)"/>
<path d="M483.72 713.54L491.94 713.98C489.75 726.9 482.08 741.13 482.08 757.56L482.3 789.31L470.26 788.21C472.23 775.08 476.61 766.32 474.42 753.18C472.23 741.13 478.8 726.9 483.72 713.54Z" fill="#fbfbfb" />
<path d="M483.72 713.54C478.8 726.9 472.23 741.13 474.42 753.18C476.61 766.32 472.23 775.08 470.26 788.21" fill="none" stroke="#d9d4d0" stroke-width="0.8"/>
<path d="M454.16 772.89L460.73 769.05L467.85 775.08L462.37 781.65L455.8 780.55Z" fill="#fafafa" filter="url(#bl0)"/>
<path d="M484.82 776.17L491.94 771.24L498.51 775.08L496.32 781.65L488.65 783.83Z" fill="#fafafa" filter="url(#bl0)"/>
<path d="M494.67 781.65L497.41 789.31" fill="none" stroke="#eee" stroke-width="1.2"/></g>
<g><ellipse cx="755.76" cy="741.46" rx="19.63" ry="10.76" fill="#000" opacity="0.18" filter="url(#bl1)"/><path d="M735.06 730.17L735.06 740.65C735.06 754.96 774.32 754.96 774.32 740.65L774.32 730.17Z" fill="url(#sc1)" /><ellipse cx="754.69" cy="730.17" rx="19.63" ry="10.76" fill="#1b7fce" /><ellipse cx="755.22" cy="729.09" rx="14.79" ry="7.26" fill="#efede9" />
<polygon points="747.56,741.59 764.37,743.61 764.37,748.99 747.56,746.97" fill="#0e4f8e" opacity="0.55" filter="url(#bl0)"/>
<ellipse cx="741.24" cy="770.9" rx="9.81" ry="5.65" fill="#000" opacity="0.18" filter="url(#bl1)"/><path d="M730.35 762.7L730.35 770.1C730.35 777.61 749.98 777.61 749.98 770.1L749.98 762.7Z" fill="url(#sc1)" /><ellipse cx="740.17" cy="762.7" rx="9.81" ry="5.65" fill="#1b7fce" /><ellipse cx="740.7" cy="762.03" rx="6.72" ry="3.63" fill="#efede9" />
<ellipse cx="767.46" cy="766.06" rx="5.11" ry="3.23" fill="#000" opacity="0.18" filter="url(#bl1)"/><path d="M761.27 760.42L761.27 765.26C761.27 769.55 771.49 769.55 771.49 765.26L771.49 760.42Z" fill="url(#sc1)" /><ellipse cx="766.38" cy="760.42" rx="5.11" ry="3.23" fill="#1b7fce" /><ellipse cx="766.92" cy="759.88" rx="2.96" ry="1.75" fill="#efede9" />
<ellipse cx="738.15" cy="761.76" rx="1.61" ry="1.08" fill="#d9a79a" opacity="0.8"/>
<line x1="826.21" y1="738.91" x2="839.92" y2="734.74" stroke="#9a9a9a" stroke-width="0.8" />
<line x1="827.56" y1="742.0" x2="841.67" y2="737.56" stroke="#9a9a9a" stroke-width="0.8" />
<ellipse cx="806.04" cy="758.4" rx="22.86" ry="5.38" fill="#000" opacity="0.15" filter="url(#bl1)" transform="rotate(-19 806.04 758.4)"/>
<path d="M783.19 744.28L820.83 732.18C826.21 731.51 829.57 743.61 826.21 748.32L787.22 761.76C780.5 761.09 779.16 746.97 783.19 744.28Z" fill="#1b7fce" />
<path d="M788.3 755.04L827.56 742C827.82 745.22 827.29 747.38 826.21 748.32L787.22 761.76C787.89 760.01 788.3 757.32 788.3 755.04Z" fill="#0b0d12" />
<path d="M783.19 744.28L820.83 732.18L822.18 734.87L784 747.38Z" fill="#3a9be6" opacity="0.6"/>
<ellipse cx="784.53" cy="753.02" rx="4.03" ry="8.87" fill="#d9dde2" transform="rotate(-12 784.53 753.02)"/>
<ellipse cx="784.53" cy="753.02" rx="4.03" ry="8.87" fill="none" stroke="#1a74c0" stroke-width="1.1" transform="rotate(-12 784.53 753.02)"/>
<line x1="822.45" y1="764.05" x2="839.92" y2="757.86" stroke="#a5a5a5" stroke-width="0.7" />
<line x1="822.98" y1="765.79" x2="838.31" y2="760.82" stroke="#a5a5a5" stroke-width="0.7" />
<path d="M792.6 769.16L819.49 760.55C822.45 760.01 824.19 766.47 822.18 768.08L794.62 778.03C790.58 777.22 790.18 770.5 792.6 769.16Z" fill="#1b7fce" />
<path d="M795.29 774.26L823.25 764.85C823.25 766.47 822.85 767.54 822.18 768.08L794.62 778.03C795.29 776.95 795.56 775.61 795.29 774.26Z" fill="#0b0d12" />
<ellipse cx="793.27" cy="773.59" rx="2.02" ry="4.57" fill="#dfe3e8" transform="rotate(-12 793.27 773.59)"/>
<ellipse cx="793.27" cy="773.59" rx="2.02" ry="4.57" fill="none" stroke="#1a74c0" stroke-width="0.9" transform="rotate(-12 793.27 773.59)"/>
<polygon points="768.4,777.22 776.47,774 782.65,778.57 782.11,783.41 774.05,786.9 768.4,782.06" fill="#26262b" />
<polygon points="768.4,777.22 776.47,774 782.65,778.57 774.32,782.06" fill="#3a3a40" />
<polygon points="748.91,785.56 753.61,781.52 761.95,784.75 761.14,790.94 753.61,792.82 748.91,789.05" fill="#141414" />
<path d="M750.25 783.27L750.25 787.71C750.25 791.34 760.33 791.34 760.33 787.71L760.33 783.27Z" fill="#bdbdbd" />
<ellipse cx="755.22" cy="783.27" rx="5.11" ry="2.82" fill="#e4e4e4" />
<ellipse cx="755.22" cy="783.14" rx="3.5" ry="1.75" fill="#8d8d8d" /></g>
</svg></body></html>
